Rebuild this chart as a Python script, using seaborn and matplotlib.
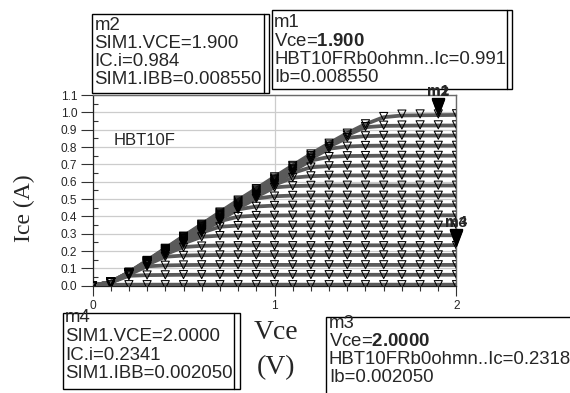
import matplotlib
matplotlib.use("Agg")
import matplotlib.pyplot as plt
from matplotlib.path import Path
from matplotlib.patches import Rectangle
from matplotlib.lines import Line2D
from matplotlib.ticker import MultipleLocator
import pandas as pd
import seaborn as sns

# Collector-emitter sweep (V)
vce = [0.0, 0.1, 0.2, 0.3, 0.4, 0.5, 0.6, 0.7, 0.8, 0.9, 1.0,
       1.1, 1.2, 1.3, 1.4, 1.5, 1.6, 1.7, 1.8, 1.9, 2.0]

# Base current steps (A)
ib_steps = [0.00005, 0.00055, 0.00105, 0.00155, 0.00205, 0.00255,
            0.00305, 0.00355, 0.00405, 0.00455, 0.00505, 0.00555,
            0.00605, 0.00655, 0.00705, 0.00755, 0.00805, 0.00855]

# Simulated collector current, one row per base current step (A)
ic_sim = [
    [0.000, 0.005, 0.006, 0.006, 0.006, 0.006, 0.006, 0.006, 0.006, 0.006, 0.006, 0.006, 0.006, 0.006, 0.006, 0.006, 0.006, 0.006, 0.006, 0.006, 0.006],
    [0.000, 0.018, 0.057, 0.061, 0.062, 0.063, 0.063, 0.063, 0.063, 0.063, 0.063, 0.063, 0.063, 0.063, 0.063, 0.063, 0.063, 0.063, 0.063, 0.063, 0.063],
    [0.000, 0.018, 0.064, 0.112, 0.117, 0.119, 0.120, 0.120, 0.120, 0.120, 0.120, 0.120, 0.120, 0.120, 0.120, 0.120, 0.120, 0.120, 0.120, 0.120, 0.120],
    [0.000, 0.018, 0.065, 0.121, 0.167, 0.174, 0.176, 0.177, 0.177, 0.177, 0.177, 0.177, 0.177, 0.177, 0.177, 0.177, 0.177, 0.177, 0.177, 0.177, 0.177],
    [0.000, 0.019, 0.066, 0.123, 0.181, 0.223, 0.230, 0.232, 0.233, 0.233, 0.233, 0.233, 0.233, 0.233, 0.233, 0.233, 0.233, 0.233, 0.233, 0.233, 0.2341],
    [0.000, 0.019, 0.067, 0.125, 0.185, 0.244, 0.282, 0.289, 0.290, 0.291, 0.291, 0.291, 0.291, 0.291, 0.291, 0.291, 0.291, 0.291, 0.291, 0.291, 0.291],
    [0.000, 0.019, 0.068, 0.127, 0.187, 0.248, 0.306, 0.340, 0.347, 0.348, 0.349, 0.349, 0.349, 0.349, 0.349, 0.349, 0.349, 0.349, 0.349, 0.349, 0.349],
    [0.000, 0.019, 0.069, 0.128, 0.190, 0.252, 0.312, 0.372, 0.398, 0.404, 0.405, 0.406, 0.406, 0.406, 0.406, 0.406, 0.406, 0.406, 0.406, 0.406, 0.406],
    [0.000, 0.020, 0.070, 0.130, 0.193, 0.255, 0.317, 0.379, 0.440, 0.457, 0.462, 0.463, 0.464, 0.464, 0.464, 0.464, 0.464, 0.464, 0.464, 0.464, 0.464],
    [0.000, 0.020, 0.071, 0.132, 0.195, 0.259, 0.321, 0.384, 0.447, 0.503, 0.516, 0.520, 0.521, 0.521, 0.521, 0.521, 0.521, 0.521, 0.521, 0.521, 0.521],
    [0.000, 0.020, 0.071, 0.134, 0.198, 0.262, 0.325, 0.389, 0.453, 0.513, 0.567, 0.575, 0.577, 0.578, 0.578, 0.578, 0.578, 0.578, 0.578, 0.578, 0.578],
    [0.000, 0.020, 0.072, 0.135, 0.200, 0.265, 0.329, 0.394, 0.458, 0.520, 0.582, 0.623, 0.632, 0.635, 0.636, 0.636, 0.636, 0.636, 0.636, 0.636, 0.636],
    [0.000, 0.021, 0.073, 0.137, 0.203, 0.269, 0.334, 0.400, 0.464, 0.526, 0.590, 0.650, 0.683, 0.690, 0.692, 0.693, 0.693, 0.693, 0.693, 0.693, 0.693],
    [0.000, 0.021, 0.074, 0.139, 0.206, 0.272, 0.338, 0.405, 0.470, 0.533, 0.598, 0.661, 0.722, 0.743, 0.748, 0.749, 0.750, 0.750, 0.750, 0.750, 0.750],
    [0.000, 0.021, 0.075, 0.141, 0.208, 0.276, 0.342, 0.410, 0.476, 0.540, 0.605, 0.669, 0.733, 0.790, 0.803, 0.807, 0.808, 0.808, 0.808, 0.808, 0.808],
    [0.000, 0.021, 0.076, 0.142, 0.211, 0.279, 0.346, 0.415, 0.482, 0.547, 0.613, 0.677, 0.742, 0.802, 0.853, 0.863, 0.865, 0.866, 0.866, 0.866, 0.866],
    [0.000, 0.022, 0.077, 0.144, 0.213, 0.283, 0.351, 0.420, 0.488, 0.553, 0.620, 0.686, 0.751, 0.812, 0.869, 0.914, 0.922, 0.923, 0.924, 0.924, 0.924],
    [0.000, 0.022, 0.078, 0.146, 0.216, 0.286, 0.355, 0.425, 0.494, 0.560, 0.628, 0.694, 0.760, 0.822, 0.880, 0.932, 0.972, 0.982, 0.983, 0.984, 0.985],
]

# Measured collector current (HBT10FRb0ohmn), same base current steps (A)
ic_meas = [
    [0.000, 0.005, 0.006, 0.006, 0.006, 0.006, 0.006, 0.006, 0.006, 0.006, 0.006, 0.006, 0.006, 0.006, 0.006, 0.006, 0.006, 0.006, 0.006, 0.006, 0.006],
    [0.000, 0.018, 0.057, 0.062, 0.063, 0.064, 0.064, 0.064, 0.064, 0.064, 0.064, 0.064, 0.064, 0.064, 0.064, 0.064, 0.064, 0.064, 0.064, 0.064, 0.064],
    [0.000, 0.018, 0.064, 0.112, 0.118, 0.120, 0.121, 0.121, 0.121, 0.121, 0.121, 0.121, 0.121, 0.121, 0.121, 0.121, 0.121, 0.121, 0.121, 0.121, 0.121],
    [0.000, 0.018, 0.065, 0.121, 0.168, 0.175, 0.177, 0.178, 0.178, 0.178, 0.178, 0.178, 0.178, 0.178, 0.178, 0.178, 0.178, 0.178, 0.178, 0.178, 0.178],
    [0.000, 0.019, 0.066, 0.123, 0.181, 0.222, 0.229, 0.230, 0.231, 0.231, 0.231, 0.231, 0.231, 0.231, 0.231, 0.231, 0.231, 0.231, 0.231, 0.231, 0.2318],
    [0.000, 0.019, 0.067, 0.125, 0.185, 0.244, 0.282, 0.289, 0.290, 0.291, 0.291, 0.291, 0.291, 0.291, 0.291, 0.291, 0.291, 0.291, 0.291, 0.291, 0.291],
    [0.000, 0.019, 0.068, 0.127, 0.187, 0.248, 0.306, 0.340, 0.347, 0.348, 0.349, 0.349, 0.349, 0.349, 0.349, 0.349, 0.349, 0.349, 0.349, 0.349, 0.349],
    [0.000, 0.019, 0.069, 0.128, 0.190, 0.252, 0.312, 0.372, 0.399, 0.405, 0.406, 0.407, 0.407, 0.407, 0.407, 0.407, 0.407, 0.407, 0.407, 0.407, 0.407],
    [0.000, 0.020, 0.070, 0.130, 0.193, 0.255, 0.317, 0.379, 0.440, 0.458, 0.463, 0.464, 0.465, 0.465, 0.465, 0.465, 0.465, 0.465, 0.465, 0.465, 0.465],
    [0.000, 0.020, 0.071, 0.132, 0.195, 0.259, 0.321, 0.384, 0.447, 0.503, 0.517, 0.521, 0.522, 0.522, 0.522, 0.522, 0.522, 0.522, 0.522, 0.522, 0.522],
    [0.000, 0.020, 0.071, 0.134, 0.198, 0.262, 0.325, 0.389, 0.453, 0.513, 0.568, 0.577, 0.579, 0.580, 0.580, 0.580, 0.580, 0.580, 0.580, 0.580, 0.580],
    [0.000, 0.020, 0.072, 0.135, 0.200, 0.265, 0.329, 0.394, 0.458, 0.520, 0.582, 0.625, 0.634, 0.637, 0.638, 0.638, 0.638, 0.638, 0.638, 0.638, 0.638],
    [0.000, 0.021, 0.073, 0.137, 0.203, 0.269, 0.334, 0.400, 0.464, 0.526, 0.590, 0.650, 0.685, 0.692, 0.694, 0.695, 0.695, 0.695, 0.695, 0.695, 0.695],
    [0.000, 0.021, 0.074, 0.139, 0.206, 0.272, 0.338, 0.405, 0.470, 0.533, 0.598, 0.661, 0.722, 0.745, 0.750, 0.751, 0.752, 0.752, 0.752, 0.752, 0.752],
    [0.000, 0.021, 0.075, 0.141, 0.208, 0.276, 0.342, 0.410, 0.476, 0.540, 0.605, 0.669, 0.733, 0.790, 0.805, 0.809, 0.810, 0.810, 0.810, 0.810, 0.810],
    [0.000, 0.021, 0.076, 0.142, 0.211, 0.279, 0.346, 0.415, 0.482, 0.547, 0.613, 0.677, 0.742, 0.802, 0.855, 0.865, 0.867, 0.868, 0.868, 0.868, 0.868],
    [0.000, 0.022, 0.077, 0.144, 0.213, 0.283, 0.351, 0.420, 0.488, 0.553, 0.620, 0.686, 0.751, 0.812, 0.869, 0.918, 0.926, 0.927, 0.928, 0.928, 0.928],
    [0.000, 0.022, 0.078, 0.146, 0.216, 0.286, 0.355, 0.425, 0.494, 0.560, 0.628, 0.694, 0.760, 0.822, 0.880, 0.934, 0.976, 0.990, 0.991, 0.991, 0.992],
]

# Marker readouts: (curve index, sweep index)
marker_hi = (17, 19)   # m1 / m2 at Vce = 1.9 V
marker_lo = (4, 20)    # m3 / m4 at Vce = 2.0 V

sns.set_style("white")
plt.rcParams["font.family"] = ["Liberation Sans", "DejaVu Sans"]
plt.rcParams["mathtext.fontset"] = "custom"
plt.rcParams["mathtext.rm"] = "Liberation Sans"
plt.rcParams["mathtext.bf"] = "Liberation Sans:bold"

W, H = 570, 393
fig = plt.figure(figsize=(W / 100, H / 100), dpi=100)
fig.patch.set_facecolor("white")


def fx(px):
    return px / W


def fy(py):
    return 1 - py / H


ax = fig.add_axes([fx(92.5), fy(285.7), fx(456.5) - fx(92.5), fy(95) - fy(285.7)])
ax.set_zorder(20)


def to_long(table):
    rows = []
    for k, curve in enumerate(table):
        for v, i in zip(vce, curve):
            rows.append({"Vce": v, "Ic": i, "Ib": ib_steps[k]})
    return pd.DataFrame(rows)


sim_df = to_long(ic_sim)
meas_df = to_long(ic_meas)

sns.lineplot(data=sim_df, x="Vce", y="Ic", units="Ib", estimator=None,
             sort=False, color="#5a5a5a", lw=2.7, legend=False, ax=ax, zorder=3)
sns.scatterplot(data=meas_df, x="Vce", y="Ic", marker="v", s=34,
                facecolor="none", edgecolor="black", linewidth=0.75,
                legend=False, ax=ax, zorder=4)

ax.set_xlim(0, 2)
ax.set_ylim(0, 1.1)
ax.set_xlabel("")
ax.set_ylabel("")
ax.xaxis.set_major_locator(MultipleLocator(1))
ax.xaxis.set_minor_locator(MultipleLocator(0.1))
ax.yaxis.set_major_locator(MultipleLocator(0.1))
ax.yaxis.set_minor_locator(MultipleLocator(0.05))
ax.set_yticks([i / 10 for i in range(12)])
ax.set_yticklabels([f"{i / 10:.1f}" for i in range(12)])
ax.set_xticks([0, 1, 2])
ax.set_xticklabels(["0", "1", "2"])
ax.grid(True, which="major", color="#cccccc", lw=0.9)
ax.set_axisbelow(True)
ax.tick_params(axis="y", which="major", direction="out", length=9, width=0.8,
               pad=2, labelsize=8.6, color="#333333", left=True)
ax.tick_params(axis="y", which="minor", direction="in", length=3.5, width=0.8,
               color="#333333", left=True)
ax.tick_params(axis="x", which="major", direction="out", length=7.5, width=0.8,
               pad=2.5, labelsize=8.6, color="#333333", bottom=True)
ax.tick_params(axis="x", which="minor", direction="out", length=3.6, width=0.8,
               color="#333333", bottom=True)
for side in ["left", "bottom"]:
    ax.spines[side].set_color("#222222")
    ax.spines[side].set_linewidth(0.9)
for side in ["top", "right"]:
    ax.spines[side].set_color("#6a6a6a")
    ax.spines[side].set_linewidth(1.0)

ax.text(0.118, 0.811, "HBT10F", fontsize=12, ha="left", va="baseline")

# Marker symbols: filled triangle with its tip on the readout point
tip_tri = Path([(-0.38, 1.0), (0.38, 1.0), (0.0, 0.0), (-0.38, 1.0)],
               [Path.MOVETO, Path.LINETO, Path.LINETO, Path.CLOSEPOLY])

k_hi, j_hi = marker_hi
k_lo, j_lo = marker_lo
m2_v, m2_i = vce[j_hi], ic_sim[k_hi][j_hi]
m1_v, m1_i = vce[j_hi], ic_meas[k_hi][j_hi]
m4_v, m4_i = vce[j_lo], ic_sim[k_lo][j_lo]
m3_v, m3_i = vce[j_lo], ic_meas[k_lo][j_lo]

for (v, i) in [(m1_v, m1_i), (m2_v, m2_i), (m3_v, m3_i), (m4_v, m4_i)]:
    ax.plot([v], [i], marker=tip_tri, markersize=23, color="black",
            ls="none", zorder=6, clip_on=False)

for name, v, i in [("m2", m2_v, m2_i), ("m1", m1_v, m1_i),
                   ("m3", m3_v, m3_i), ("m4", m4_v, m4_i)]:
    ax.annotate(name, (v, i), xytext=(0, 11.5), textcoords="offset points",
                ha="center", va="bottom", fontsize=11, fontweight="bold",
                annotation_clip=False, zorder=7)


def marker_box(x0, y0, x1, y1, inner_x, lines, baselines, tx):
    fig.add_artist(Rectangle((fx(x0), fy(y1)), fx(x1) - fx(x0), fy(y0) - fy(y1),
                             transform=fig.transFigure, facecolor="white",
                             edgecolor="black", lw=1.0, zorder=8))
    for s, b in zip(lines, baselines):
        fig.text(fx(tx), fy(b), s, fontsize=13.4, ha="left", va="baseline",
                 zorder=9)
    fig.add_artist(Line2D([fx(inner_x), fx(inner_x)], [fy(y0), fy(y1)],
                          transform=fig.transFigure, color="black", lw=1.0,
                          zorder=10))


marker_box(92, 14, 269, 92.5, 264,
           ["m2", f"SIM1.VCE={m2_v:.3f}", f"IC.i={m2_i:.3f}",
            f"SIM1.IBB={ib_steps[k_hi]:.6f}"],
           [30, 47.5, 65.5, 83.5], 94.5)
marker_box(272, 10, 512, 89.3, 507,
           ["m1", f"Vce=$\\mathbf{{{m1_v:.3f}}}$",
            f"HBT10FRb0ohmn..Ic={m1_i:.3f}", f"Ib={ib_steps[k_hi]:.6f}"],
           [27, 45.5, 64, 82.5], 274)
marker_box(62.7, 312.7, 240, 389, 234,
           ["m4", f"SIM1.VCE={m4_v:.4f}", f"IC.i={m4_i:.4f}",
            f"SIM1.IBB={ib_steps[k_lo]:.6f}"],
           [322, 341, 359.5, 378], 65)
marker_box(326, 317.3, 600, 400, 600,
           ["m3", f"Vce=$\\mathbf{{{m3_v:.4f}}}$",
            f"HBT10FRb0ohmn..Ic={m3_i:.4f}", f"Ib={ib_steps[k_lo]:.6f}"],
           [328, 346.5, 364.5, 382.5], 329)

# Axis titles in serif, as in the simulator layout
serif = ["Liberation Serif", "DejaVu Serif"]
fig.text(fx(24), fy(208), "Ice (A)", rotation=90, fontsize=17, family=serif,
         ha="center", va="center")
fig.text(fx(276), fy(339), "Vce", fontsize=20, family=serif,
         ha="center", va="baseline")
fig.text(fx(276), fy(374), "(V)", fontsize=20, family=serif,
         ha="center", va="baseline")

fig.savefig("out.png", dpi=100, facecolor="white")
